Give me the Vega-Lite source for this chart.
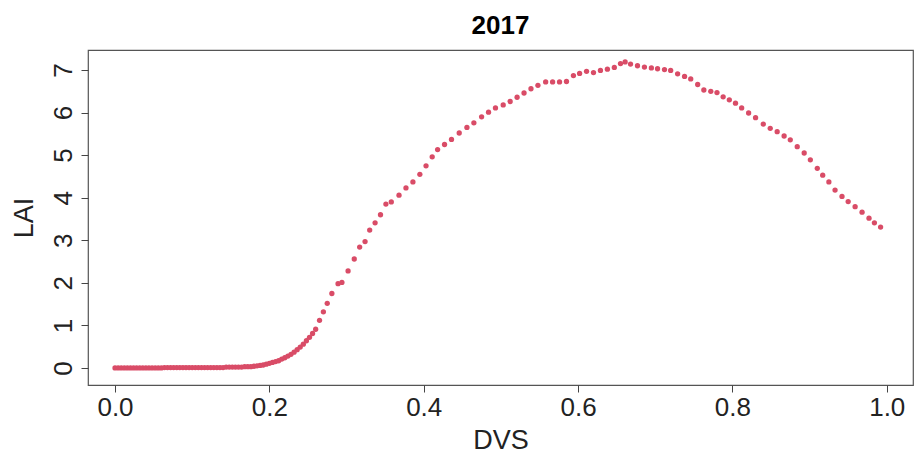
{
  "$schema": "https://vega.github.io/schema/vega-lite/v6.json",
  "width": 825,
  "height": 335,
  "autosize": "none",
  "padding": {"left": 88, "top": 50, "right": 2, "bottom": 70},
  "background": "white",
  "title": {"text": "2017", "fontSize": 26, "fontWeight": "bold", "font": "Liberation Sans, Arial", "color": "black", "offset": 11, "anchor": "middle"},
  "config": {
    "view": {"stroke": "#555555", "strokeWidth": 1.2},
    "axis": {"labelFont": "Liberation Sans, Arial", "titleFont": "Liberation Sans, Arial", "labelFontSize": 26, "titleFontSize": 27, "titleFontWeight": "normal", "labelColor": "#222222", "titleColor": "#222222", "tickColor": "#444444", "tickSize": 7, "grid": false, "domain": false}
  },
  "data": {"values": [
    {"DVS":0.000,"LAI":0.00},{"DVS":0.004,"LAI":0.00},{"DVS":0.008,"LAI":0.00},{"DVS":0.012,"LAI":0.00},{"DVS":0.016,"LAI":0.00},{"DVS":0.020,"LAI":0.00},{"DVS":0.024,"LAI":0.00},{"DVS":0.028,"LAI":0.00},{"DVS":0.032,"LAI":0.00},{"DVS":0.036,"LAI":0.00},{"DVS":0.040,"LAI":0.00},{"DVS":0.044,"LAI":0.00},{"DVS":0.048,"LAI":0.00},{"DVS":0.052,"LAI":0.00},{"DVS":0.056,"LAI":0.00},{"DVS":0.060,"LAI":0.00},{"DVS":0.064,"LAI":0.01},{"DVS":0.068,"LAI":0.01},{"DVS":0.072,"LAI":0.01},{"DVS":0.076,"LAI":0.01},{"DVS":0.080,"LAI":0.01},{"DVS":0.084,"LAI":0.01},{"DVS":0.088,"LAI":0.01},{"DVS":0.092,"LAI":0.01},{"DVS":0.096,"LAI":0.01},{"DVS":0.100,"LAI":0.01},{"DVS":0.104,"LAI":0.01},{"DVS":0.108,"LAI":0.01},{"DVS":0.112,"LAI":0.01},{"DVS":0.116,"LAI":0.01},{"DVS":0.120,"LAI":0.01},{"DVS":0.124,"LAI":0.01},{"DVS":0.128,"LAI":0.01},{"DVS":0.132,"LAI":0.01},{"DVS":0.136,"LAI":0.01},{"DVS":0.140,"LAI":0.01},{"DVS":0.144,"LAI":0.02},{"DVS":0.148,"LAI":0.02},{"DVS":0.152,"LAI":0.02},{"DVS":0.156,"LAI":0.02},{"DVS":0.160,"LAI":0.02},{"DVS":0.164,"LAI":0.02},{"DVS":0.168,"LAI":0.03},{"DVS":0.172,"LAI":0.03},{"DVS":0.176,"LAI":0.03},{"DVS":0.180,"LAI":0.04},{"DVS":0.184,"LAI":0.05},{"DVS":0.188,"LAI":0.06},{"DVS":0.192,"LAI":0.07},{"DVS":0.196,"LAI":0.09},{"DVS":0.200,"LAI":0.11},{"DVS":0.204,"LAI":0.13},{"DVS":0.208,"LAI":0.15},{"DVS":0.212,"LAI":0.17},{"DVS":0.216,"LAI":0.21},{"DVS":0.220,"LAI":0.24},{"DVS":0.224,"LAI":0.28},{"DVS":0.228,"LAI":0.32},{"DVS":0.232,"LAI":0.37},{"DVS":0.236,"LAI":0.43},{"DVS":0.240,"LAI":0.49},{"DVS":0.244,"LAI":0.56},{"DVS":0.248,"LAI":0.64},{"DVS":0.252,"LAI":0.72},{"DVS":0.256,"LAI":0.81},{"DVS":0.260,"LAI":0.91},{"DVS":0.265,"LAI":1.12},{"DVS":0.270,"LAI":1.32},{"DVS":0.275,"LAI":1.52},{"DVS":0.281,"LAI":1.75},{"DVS":0.289,"LAI":1.98},{"DVS":0.294,"LAI":2.01},{"DVS":0.302,"LAI":2.28},{"DVS":0.310,"LAI":2.56},{"DVS":0.317,"LAI":2.84},{"DVS":0.324,"LAI":2.97},{"DVS":0.330,"LAI":3.24},{"DVS":0.337,"LAI":3.41},{"DVS":0.344,"LAI":3.60},{"DVS":0.351,"LAI":3.85},{"DVS":0.358,"LAI":3.90},{"DVS":0.368,"LAI":4.06},{"DVS":0.377,"LAI":4.23},{"DVS":0.386,"LAI":4.37},{"DVS":0.395,"LAI":4.55},{"DVS":0.403,"LAI":4.75},{"DVS":0.411,"LAI":4.96},{"DVS":0.418,"LAI":5.13},{"DVS":0.427,"LAI":5.25},{"DVS":0.436,"LAI":5.37},{"DVS":0.446,"LAI":5.52},{"DVS":0.456,"LAI":5.65},{"DVS":0.465,"LAI":5.76},{"DVS":0.475,"LAI":5.90},{"DVS":0.484,"LAI":6.01},{"DVS":0.493,"LAI":6.11},{"DVS":0.503,"LAI":6.18},{"DVS":0.512,"LAI":6.26},{"DVS":0.521,"LAI":6.36},{"DVS":0.530,"LAI":6.46},{"DVS":0.539,"LAI":6.56},{"DVS":0.548,"LAI":6.64},{"DVS":0.558,"LAI":6.72},{"DVS":0.567,"LAI":6.72},{"DVS":0.576,"LAI":6.72},{"DVS":0.585,"LAI":6.73},{"DVS":0.594,"LAI":6.87},{"DVS":0.602,"LAI":6.92},{"DVS":0.611,"LAI":6.97},{"DVS":0.620,"LAI":6.94},{"DVS":0.629,"LAI":6.99},{"DVS":0.638,"LAI":7.02},{"DVS":0.647,"LAI":7.06},{"DVS":0.655,"LAI":7.15},{"DVS":0.661,"LAI":7.19},{"DVS":0.668,"LAI":7.14},{"DVS":0.677,"LAI":7.10},{"DVS":0.686,"LAI":7.07},{"DVS":0.695,"LAI":7.05},{"DVS":0.703,"LAI":7.03},{"DVS":0.712,"LAI":7.01},{"DVS":0.720,"LAI":6.99},{"DVS":0.729,"LAI":6.91},{"DVS":0.738,"LAI":6.85},{"DVS":0.746,"LAI":6.79},{"DVS":0.755,"LAI":6.66},{"DVS":0.763,"LAI":6.53},{"DVS":0.772,"LAI":6.50},{"DVS":0.780,"LAI":6.47},{"DVS":0.788,"LAI":6.37},{"DVS":0.796,"LAI":6.30},{"DVS":0.804,"LAI":6.22},{"DVS":0.812,"LAI":6.11},{"DVS":0.821,"LAI":5.99},{"DVS":0.830,"LAI":5.88},{"DVS":0.840,"LAI":5.73},{"DVS":0.849,"LAI":5.63},{"DVS":0.858,"LAI":5.55},{"DVS":0.867,"LAI":5.45},{"DVS":0.875,"LAI":5.36},{"DVS":0.884,"LAI":5.20},{"DVS":0.893,"LAI":5.05},{"DVS":0.901,"LAI":4.89},{"DVS":0.910,"LAI":4.69},{"DVS":0.917,"LAI":4.53},{"DVS":0.925,"LAI":4.37},{"DVS":0.933,"LAI":4.18},{"DVS":0.942,"LAI":4.03},{"DVS":0.950,"LAI":3.91},{"DVS":0.959,"LAI":3.79},{"DVS":0.968,"LAI":3.66},{"DVS":0.977,"LAI":3.52},{"DVS":0.984,"LAI":3.41},{"DVS":0.992,"LAI":3.31}
  ]},
  "mark": {"type": "circle", "size": 28, "color": "#D94C67", "opacity": 1},
  "encoding": {
    "x": {"field": "DVS", "type": "quantitative", "scale": {"domain": [-0.035, 1.034], "nice": false, "zero": false},
      "axis": {"values": [0, 0.2, 0.4, 0.6, 0.8, 1], "format": ".1f", "title": "DVS", "labelPadding": 2, "titlePadding": 7, "labelFlush": false}},
    "y": {"field": "LAI", "type": "quantitative", "scale": {"domain": [-0.4, 7.47], "nice": false, "zero": false},
      "axis": {"values": [0, 1, 2, 3, 4, 5, 6, 7], "title": "LAI", "labelAngle": 270, "labelAlign": "center", "labelBaseline": "bottom", "labelPadding": 5, "titlePadding": 12, "labelFlush": false}}
  }
}
